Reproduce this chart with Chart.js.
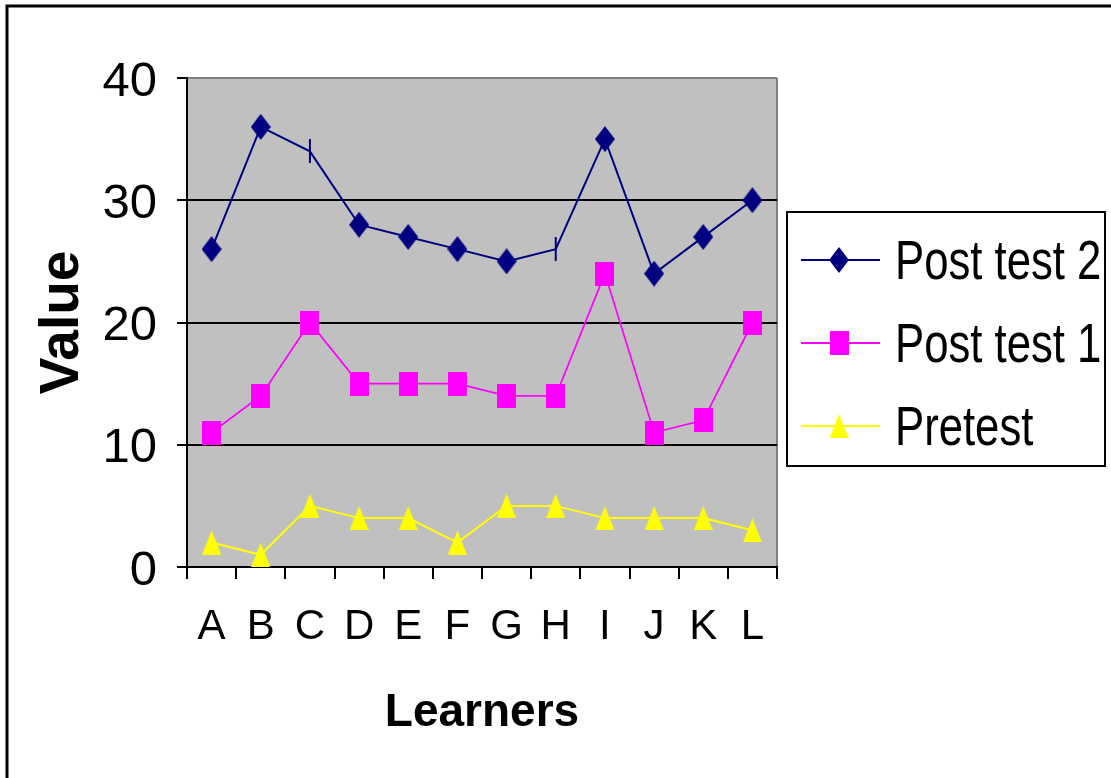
<!DOCTYPE html>
<html>
<head>
<meta charset="utf-8">
<title>Learners – test scores</title>
<script src="https://cdn.jsdelivr.net/npm/chart.js@4/dist/chart.umd.min.js"></script>
<style>
  html, body { margin: 0; padding: 0; background: #ffffff; }
  #wrap { width: 1111px; height: 778px; }
</style>
</head>
<body>
<div id="wrap"><canvas id="chart" width="1111" height="778"></canvas></div>
<script>
// ---- data ----
const categories = ['A', 'B', 'C', 'D', 'E', 'F', 'G', 'H', 'I', 'J', 'K', 'L'];
const seriesNames = ['Post test 2', 'Post test 1', 'Pretest'];
const postTest2 = [26, 36, 34, 28, 27, 26, 25, 26, 35, 24, 27, 30];
const postTest1 = [11, 14, 20, 15, 15, 15, 14, 14, 24, 11, 12, 20];
const pretest   = [2, 1, 5, 4, 4, 2, 5, 5, 4, 4, 4, 3];
const yTicks = [0, 10, 20, 30, 40];

// ---- marker glyphs ----
function makeMarker(w, h, color, draw) {
  const c = document.createElement('canvas');
  c.width = w; c.height = h;
  const g = c.getContext('2d');
  g.fillStyle = color;
  draw(g, w, h);
  return c;
}
const NAVY = '#000080', MAGENTA = '#ff00ff', YELLOW = '#ffff00';
const diamond = makeMarker(20, 26, NAVY, (g, w, h) => {
  g.beginPath(); g.moveTo(w / 2, 0); g.lineTo(w, h / 2); g.lineTo(w / 2, h); g.lineTo(0, h / 2); g.closePath(); g.fill();
});
const dash = makeMarker(4, 24, NAVY, (g, w, h) => { g.fillRect(w / 2 - 1, 0, 2, h); });
const square = makeMarker(19, 24, MAGENTA, (g, w, h) => { g.fillRect(0, 0, w, h); });
const triangle = makeMarker(19, 24, YELLOW, (g, w, h) => {
  g.beginPath(); g.moveTo(w / 2, 0); g.lineTo(w, h); g.lineTo(0, h); g.closePath(); g.fill();
});
// Post test 2 has plain tick marks at C and H
const post2Styles = categories.map(c => (c === 'C' || c === 'H') ? dash : diamond);

// ---- plugins ----
const plotBackground = {
  id: 'plotBackground',
  beforeDraw(chart) {
    const { ctx, chartArea: a } = chart;
    ctx.save();
    ctx.fillStyle = '#c0c0c0';
    ctx.fillRect(a.left, a.top, a.right - a.left, a.bottom - a.top);
    ctx.restore();
  }
};

const boxLegend = {
  id: 'boxLegend',
  afterDraw(chart) {
    const { ctx } = chart;
    ctx.save();
    // outer chart frame
    ctx.strokeStyle = '#000';
    ctx.lineWidth = 3;
    ctx.strokeRect(7, 6, 1200, 900);
    // legend frame
    ctx.lineWidth = 2;
    ctx.strokeRect(787, 212, 318, 254);
    const rows = [260, 343, 426];
    ctx.font = '56px "Liberation Sans", Arial, sans-serif';
    ctx.textBaseline = 'alphabetic';
    ctx.textAlign = 'left';
    chart.data.datasets.forEach((ds, i) => {
      const y = rows[i];
      ctx.strokeStyle = ds.borderColor;
      ctx.lineWidth = 2;
      ctx.beginPath(); ctx.moveTo(801, y); ctx.lineTo(880, y); ctx.stroke();
      const m = Array.isArray(ds.pointStyle) ? ds.pointStyle[0] : ds.pointStyle;
      ctx.drawImage(m, 839 - m.width / 2, y - m.height / 2);
      // condensed label text
      ctx.save();
      ctx.translate(895, y + 19);
      ctx.scale(0.78, 1);
      ctx.fillStyle = '#000';
      ctx.fillText(ds.label, 0, 0);
      ctx.restore();
    });
    ctx.restore();
  }
};

// ---- chart ----
new Chart(document.getElementById('chart'), {
  type: 'line',
  data: {
    labels: categories,
    datasets: [
      { label: seriesNames[0], data: postTest2, borderColor: NAVY, borderWidth: 2, pointStyle: post2Styles },
      { label: seriesNames[1], data: postTest1, borderColor: MAGENTA, borderWidth: 1.7, pointStyle: square },
      { label: seriesNames[2], data: pretest, borderColor: YELLOW, borderWidth: 2, pointStyle: triangle }
    ]
  },
  options: {
    responsive: false,
    animation: false,
    events: [],
    layout: { padding: { left: 10, top: 78, right: 334, bottom: 0 } },
    elements: { line: { tension: 0, fill: false }, point: { radius: 10 } },
    plugins: { legend: { display: false }, tooltip: { enabled: false } },
    scales: {
      x: {
        type: 'category',
        offset: true,
        afterFit(scale) { scale.height = 211; },
        grid: {
          offset: true,
          drawOnChartArea: true,
          color: (ctx) => ctx.type === 'tick' ? 'rgba(0,0,0,0)' : '#808080',
          tickColor: '#000',
          tickLength: 12,
          lineWidth: 2
        },
        border: { display: true, color: '#000', width: 2 },
        ticks: {
          color: '#000',
          padding: 23,
          autoSkip: false,
          maxRotation: 0,
          font: { family: '"Liberation Sans", Arial, sans-serif', size: 42 }
        },
        title: {
          display: true,
          text: 'Learners',
          color: '#000',
          padding: { top: 0, bottom: 37 },
          font: { family: '"Liberation Sans", Arial, sans-serif', size: 46, weight: 'bold', lineHeight: 1.2 }
        }
      },
      y: {
        min: 0,
        max: 40,
        afterFit(scale) { scale.width = 177; },
        afterBuildTicks(scale) { scale.ticks = yTicks.map(v => ({ value: v })); },
        grid: {
          color: (ctx) => (ctx.tick && ctx.tick.value === 40) ? '#808080' : '#000',
          tickColor: '#000',
          tickLength: 10,
          lineWidth: 2
        },
        border: { display: true, color: '#000', width: 2 },
        ticks: {
          color: '#000',
          padding: 20,
          labelOffset: 4,
          font: { family: '"Liberation Sans", Arial, sans-serif', size: 49 }
        },
        title: {
          display: true,
          text: 'Value',
          color: '#000',
          padding: { top: 20, bottom: 0 },
          font: { family: '"Liberation Sans", Arial, sans-serif', size: 55, weight: 'bold', lineHeight: 1.2 }
        }
      }
    }
  },
  plugins: [plotBackground, boxLegend]
});
</script>
</body>
</html>
